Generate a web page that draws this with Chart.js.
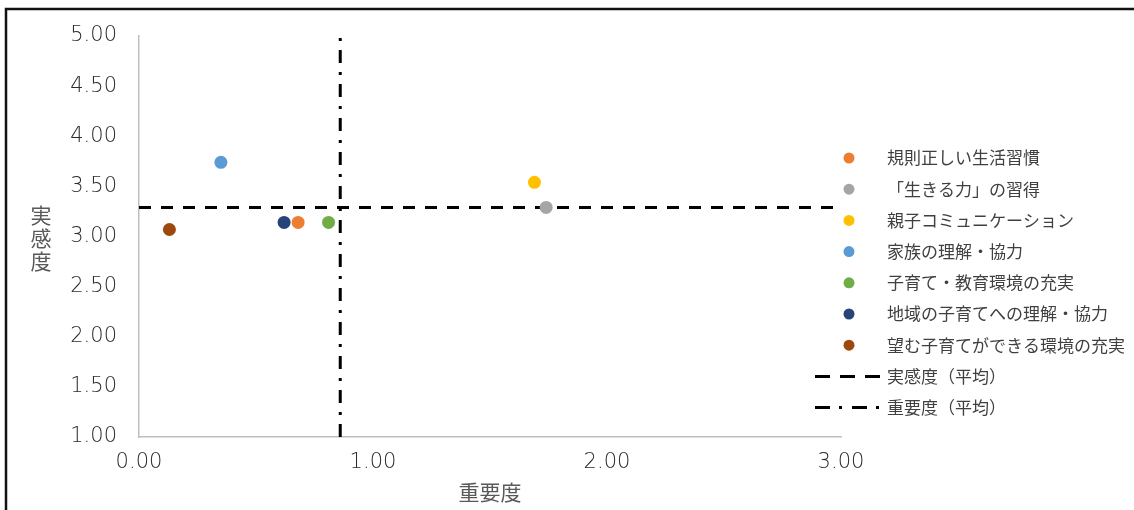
<!DOCTYPE html>
<html>
<head>
<meta charset="utf-8">
<script src="https://cdn.jsdelivr.net/npm/chart.js@4.4.0/dist/chart.umd.min.js"></script>
<style>
html, body { margin: 0; padding: 0; background: #fff; }
#wrap { width: 1134px; height: 510px; position: relative; }
</style>
</head>
<body>
<div id="wrap"><canvas id="matrixChart"></canvas></div>
<script>
(function matrix () {
    'use strict';

    var itemLabels = [
        '規則正しい生活習慣',
        '「生きる力」の習得',
        '親子コミュニケーション',
        '家族の理解・協力',
        '子育て・教育環境の充実',
        '地域の子育てへの理解・協力',
        '望む子育てができる環境の充実'
    ];
    var importance = [0.68, 1.74, 1.69, 0.35, 0.81, 0.62, 0.13];
    var satisfaction = [3.14, 3.29, 3.54, 3.74, 3.14, 3.14, 3.07];
    var itemColors = ['#ED7D31', '#A5A5A5', '#FFC000', '#5B9BD5', '#70AD47', '#264478', '#9E480E'];
    var avgLabels = ['実感度（平均）', '重要度（平均）'];
    var avgSatisfaction = 3.29;
    var avgImportance = 0.86;
    var xRange = [0, 3];
    var yRange = [1, 5];
    var xTitle = '重要度';
    var yTitle = '実感度';

    var tickFont = { family: '"DejaVu Sans", sans-serif', size: 21, weight: 200 };
    var jpFont = '"Noto Sans CJK JP", sans-serif';

    var datasets = itemLabels.map(function (label, i) {
        return {
            label: label,
            data: [{ x: importance[i], y: satisfaction[i] }],
            backgroundColor: itemColors[i],
            borderColor: itemColors[i],
            pointRadius: 6.5,
            pointHoverRadius: 6.5,
            borderWidth: 0
        };
    });
    datasets.push({
        label: avgLabels[0],
        data: [{ x: xRange[0], y: avgSatisfaction }, { x: xRange[1], y: avgSatisfaction }],
        showLine: true,
        borderColor: '#000',
        borderWidth: 3,
        borderDash: [12, 10],
        legendDash: [15, 10],
        pointRadius: 0
    });
    datasets.push({
        label: avgLabels[1],
        data: [{ x: avgImportance, y: yRange[0] }, { x: avgImportance, y: yRange[1] }],
        showLine: true,
        borderColor: '#000',
        borderWidth: 3,
        borderDash: [13, 9, 3, 9],
        legendDash: [15, 9, 3, 10],
        pointRadius: 0
    });

    // white page with the black frame on the top and left edges
    var frame = {
        id: 'frame',
        beforeDraw: function (chart) {
            var ctx = chart.ctx;
            ctx.save();
            ctx.fillStyle = '#fff';
            ctx.fillRect(0, 0, chart.width, chart.height);
            ctx.strokeStyle = '#111';
            ctx.lineWidth = 2.5;
            ctx.beginPath();
            ctx.moveTo(6, chart.height);
            ctx.lineTo(6, 9);
            ctx.lineTo(chart.width, 9);
            ctx.stroke();
            ctx.restore();
        }
    };

    // y title with the characters stacked upright
    var stackedTitle = {
        id: 'stackedTitle',
        afterDraw: function (chart) {
            var ctx = chart.ctx;
            ctx.save();
            ctx.font = '21px ' + jpFont;
            ctx.fillStyle = '#595959';
            ctx.textAlign = 'center';
            ctx.textBaseline = 'middle';
            yTitle.split('').forEach(function (ch, i) {
                ctx.fillText(ch, 41, 215 + i * 23);
            });
            ctx.restore();
        }
    };

    var sideLegend = {
        id: 'sideLegend',
        afterDraw: function (chart) {
            var ctx = chart.ctx;
            ctx.save();
            ctx.font = '17px ' + jpFont;
            ctx.textBaseline = 'middle';
            chart.data.datasets.forEach(function (ds, i) {
                var y = 158 + i * 31.2;
                if (ds.showLine) {
                    ctx.strokeStyle = ds.borderColor;
                    ctx.lineWidth = 3;
                    ctx.setLineDash(ds.legendDash);
                    ctx.beginPath();
                    ctx.moveTo(815, y);
                    ctx.lineTo(880, y);
                    ctx.stroke();
                    ctx.setLineDash([]);
                } else {
                    ctx.fillStyle = ds.backgroundColor;
                    ctx.beginPath();
                    ctx.arc(849, y, 5.5, 0, Math.PI * 2);
                    ctx.fill();
                }
                ctx.fillStyle = '#404040';
                ctx.fillText(ds.label, 887, y);
            });
            ctx.restore();
        }
    };

    var ctx = document.getElementById('matrixChart').getContext('2d');
    new Chart(ctx, {
        type: 'scatter',
        data: { datasets: datasets },
        plugins: [frame, stackedTitle, sideLegend],
        options: {
            responsive: true,
            maintainAspectRatio: false,
            animation: false,
            layout: { padding: { left: 0, top: 36, right: 293, bottom: 0 } },
            plugins: {
                legend: { display: false },
                tooltip: { enabled: false }
            },
            scales: {
                x: {
                    type: 'linear',
                    min: xRange[0],
                    max: xRange[1],
                    grid: { display: false, drawTicks: false },
                    border: { display: true, color: '#BFBFBF', width: 1.5 },
                    ticks: {
                        stepSize: 1,
                        padding: 13,
                        color: '#2b2b2b',
                        font: tickFont,
                        callback: function (v) { return v.toFixed(2); }
                    },
                    title: {
                        display: true,
                        text: xTitle,
                        color: '#595959',
                        font: { family: jpFont, size: 21 },
                        padding: { top: 0, bottom: 5 }
                    },
                    afterFit: function (scale) { scale.height = 73; }
                },
                y: {
                    type: 'linear',
                    min: yRange[0],
                    max: yRange[1],
                    grid: { display: false, drawTicks: false },
                    border: { display: true, color: '#BFBFBF', width: 1.5 },
                    ticks: {
                        stepSize: 0.5,
                        padding: 22,
                        color: '#2b2b2b',
                        font: tickFont,
                        callback: function (v) { return v.toFixed(2); }
                    },
                    afterFit: function (scale) { scale.width = 139; }
                }
            }
        }
    });
}());
</script>
</body>
</html>
